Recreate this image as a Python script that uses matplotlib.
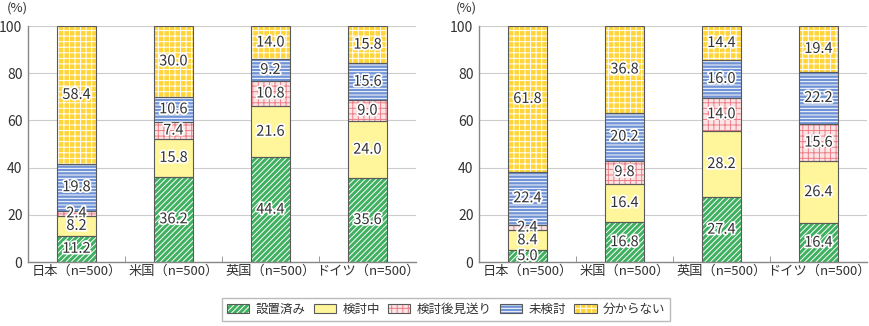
import numpy as np
import matplotlib
matplotlib.use("Agg")
import matplotlib.pyplot as plt
import matplotlib.patheffects as pe
from matplotlib.patches import Patch

plt.rcParams['font.family'] = ['Noto Sans CJK JP', 'DejaVu Sans']
plt.rcParams['hatch.linewidth'] = 0.7

countries = ['日本（n=500）', '米国（n=500）', '英国（n=500）', 'ドイツ（n=500）']
series = ['設置済み', '検討中', '検討後見送り', '未検討', '分からない']

# left chart
left_installed = [11.2, 36.2, 44.4, 35.6]
left_considering = [8.2, 15.8, 21.6, 24.0]
left_postponed = [2.4, 7.4, 10.8, 9.0]
left_unexamined = [19.8, 10.6, 9.2, 15.6]
left_unknown = [58.4, 30.0, 14.0, 15.8]

# right chart
right_installed = [5.0, 16.8, 27.4, 16.4]
right_considering = [8.4, 16.4, 28.2, 26.4]
right_postponed = [2.4, 9.8, 14.0, 15.6]
right_unexamined = [22.4, 20.2, 16.0, 22.2]
right_unknown = [61.8, 36.8, 14.4, 19.4]

# face colour, hatch colour, hatch pattern
styles = [
    ('#3fb060', 'white', '//////'),
    ('#fff59a', None, None),
    ('#fbe4e6', '#ef7d86', '+++'),
    ('#6f93d4', 'white', '-----'),
    ('#ffd53a', 'white', '+++'),
]
outline = '#5a5a5a'
text_col = '#333333'

fig = plt.figure(figsize=(8.69, 3.26), dpi=100)
ax1 = fig.add_axes([28 / 869, 1 - 262 / 326, 388 / 869, 236 / 326])
ax2 = fig.add_axes([479 / 869, 1 - 262 / 326, 388 / 869, 236 / 326])

x = np.arange(len(countries))
width = 0.41


def draw(ax, data, pct_x):
    bottom = np.zeros(len(countries))
    for vals, (fc, hc, hatch) in zip(data, styles):
        vals = np.array(vals)
        if hatch:
            ax.bar(x, vals, width, bottom=bottom, color=fc, edgecolor=hc,
                   hatch=hatch, linewidth=0, zorder=2)
        else:
            ax.bar(x, vals, width, bottom=bottom, color=fc, linewidth=0, zorder=2)
        ax.bar(x, vals, width, bottom=bottom, fill=False, edgecolor=outline,
               linewidth=0.8, zorder=3)
        for xi, b, v in zip(x, bottom, vals):
            ax.text(xi, b + v / 2, f'{v:.1f}', ha='center', va='center',
                    fontsize=10.5, color=text_col, zorder=4,
                    path_effects=[pe.withStroke(linewidth=2.5, foreground='white')])
        bottom += vals
    ax.set_xlim(-0.5, 3.5)
    ax.set_ylim(0, 100)
    ax.set_yticks(np.arange(0, 101, 20))
    ax.set_xticks(x)
    ax.set_xticklabels(countries)
    ax.set_xticks([0.5, 1.5, 2.5], minor=True)
    ax.tick_params(axis='x', which='major', length=0, labelsize=9.5,
                   colors=text_col, pad=2)
    ax.tick_params(axis='x', which='minor', direction='in', length=4,
                   color='#888888')
    ax.tick_params(axis='y', length=0, labelsize=10, colors=text_col, pad=4)
    ax.grid(axis='y', color='#cccccc', linewidth=0.8, zorder=0)
    ax.set_axisbelow(True)
    for s in ['top', 'right']:
        ax.spines[s].set_visible(False)
    for s in ['left', 'bottom']:
        ax.spines[s].set_color('#888888')
        ax.spines[s].set_linewidth(1.0)
    fig.text(pct_x / 869, 1 - 8 / 326, '(%)', ha='center', va='center',
             fontsize=9.5, color=text_col)


draw(ax1, [left_installed, left_considering, left_postponed, left_unexamined, left_unknown], 17)
draw(ax2, [right_installed, right_considering, right_postponed, right_unexamined, right_unknown], 466)

handles = []
for fc, hc, hatch in styles:
    if hatch:
        p1 = Patch(facecolor=fc, edgecolor=hc, hatch=hatch, linewidth=0)
    else:
        p1 = Patch(facecolor=fc, linewidth=0)
    p2 = Patch(fill=False, edgecolor=outline, linewidth=0.8)
    handles.append((p1, p2))

leg = fig.legend(handles, series, loc='center', bbox_to_anchor=(446 / 869, 1 - 309 / 326),
                 ncol=5, frameon=True, fancybox=False, fontsize=9,
                 handlelength=1.8, handleheight=0.7, columnspacing=0.65,
                 handletextpad=0.5, borderpad=0.4, borderaxespad=0, edgecolor='#aaaaaa')
leg.get_frame().set_linewidth(1.0)
for t in leg.get_texts():
    t.set_color(text_col)

fig.savefig('out.png', dpi=100)
